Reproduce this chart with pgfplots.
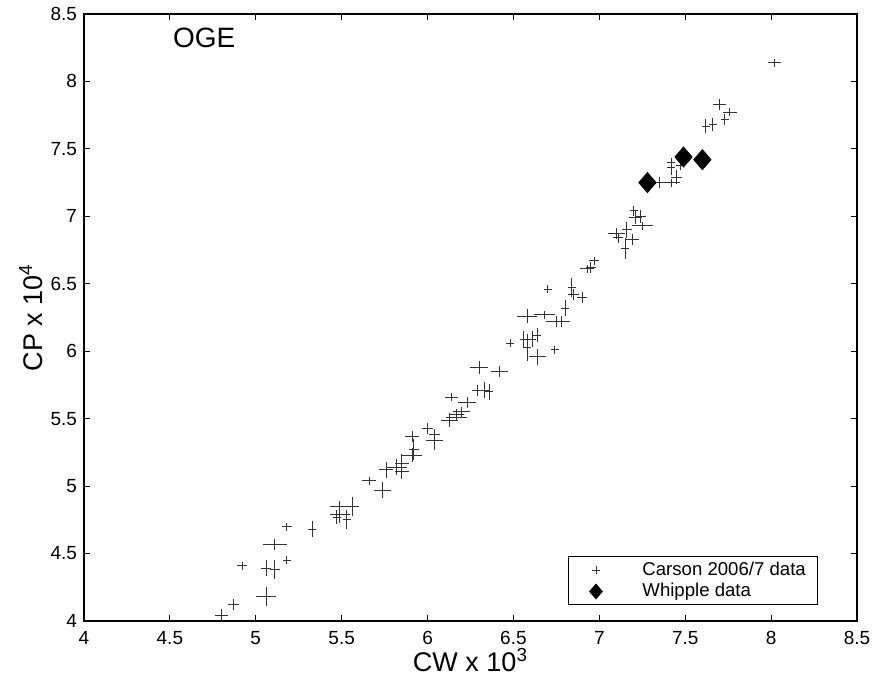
\documentclass[border=0pt]{standalone}
\usepackage{fontspec}
\setmainfont{Liberation Sans}
\usepackage{pgfplots}
\usepackage{pgfplotstable}
\pgfplotsset{compat=1.18}

% Carson 2006/7 measurements: CW (x10^3), CP (x10^4) and their uncertainties
\pgfplotstableread{
x    y    ex   ey
4.80 4.04 0.04 0.05
4.87 4.12 0.03 0.04
4.92 4.41 0.03 0.03
5.06 4.18 0.06 0.07
5.06 4.39 0.03 0.06
5.11 4.38 0.03 0.07
5.11 4.57 0.07 0.04
5.18 4.45 0.02 0.03
5.18 4.70 0.03 0.02
5.33 4.68 0.02 0.06
5.47 4.77 0.02 0.05
5.49 4.79 0.06 0.06
5.53 4.75 0.02 0.07
5.49 4.85 0.06 0.04
5.56 4.85 0.04 0.07
5.66 5.04 0.04 0.03
5.74 4.97 0.05 0.06
5.76 5.12 0.04 0.06
5.82 5.14 0.06 0.06
5.85 5.11 0.04 0.06
5.85 5.17 0.04 0.07
5.91 5.23 0.06 0.05
5.92 5.27 0.03 0.08
5.91 5.37 0.04 0.04
6.00 5.43 0.03 0.04
6.04 5.34 0.05 0.07
6.04 5.38 0.03 0.04
6.13 5.49 0.05 0.05
6.17 5.51 0.06 0.03
6.20 5.55 0.05 0.04
6.14 5.66 0.04 0.03
6.23 5.62 0.05 0.04
6.17 5.53 0.04 0.04
6.29 5.71 0.03 0.04
6.33 5.71 0.03 0.06
6.36 5.70 0.02 0.06
6.30 5.88 0.05 0.05
6.42 5.85 0.05 0.04
6.48 6.06 0.02 0.02
6.58 6.26 0.06 0.05
6.58 6.03 0.02 0.10
6.56 6.09 0.02 0.06
6.61 6.09 0.02 0.06
6.64 5.96 0.05 0.06
6.64 6.12 0.02 0.05
6.68 6.27 0.06 0.03
6.75 6.22 0.06 0.04
6.78 6.22 0.05 0.04
6.74 6.01 0.02 0.02
6.80 6.32 0.02 0.06
6.70 6.46 0.02 0.02
6.84 6.47 0.02 0.07
6.85 6.42 0.03 0.04
6.90 6.40 0.03 0.04
6.93 6.61 0.04 0.03
6.97 6.67 0.03 0.03
6.95 6.62 0.03 0.04
7.10 6.87 0.05 0.04
7.11 6.84 0.03 0.04
7.15 6.76 0.02 0.08
7.19 6.83 0.04 0.04
7.16 6.90 0.03 0.06
7.21 6.99 0.04 0.05
7.24 7.00 0.03 0.05
7.25 6.93 0.06 0.03
7.20 7.04 0.02 0.04
7.35 7.25 0.03 0.04
7.42 7.25 0.05 0.03
7.42 7.36 0.02 0.05
7.45 7.29 0.03 0.05
7.42 7.40 0.02 0.03
7.47 7.38 0.02 0.04
7.48 7.47 0.02 0.03
7.62 7.67 0.02 0.05
7.66 7.68 0.02 0.05
7.70 7.83 0.04 0.04
7.76 7.77 0.04 0.02
7.73 7.72 0.02 0.04
8.02 8.14 0.04 0.02
}\carson

% Whipple measurements
\pgfplotstableread{
x    y
7.28 7.25
7.49 7.44
7.60 7.42
}\whipple

\begin{document}
\begin{tikzpicture}
\begin{axis}[
  scale only axis,
  width=386.5pt, height=303.5pt,
  xmin=4, xmax=8.5, ymin=4, ymax=8.5,
  xtick={4,4.5,...,8.5}, ytick={4,4.5,...,8.5},
  tick align=inside,
  major tick length=3pt,
  axis line style={line width=0.7pt},
  every tick/.style={black, line width=0.5pt},
  /pgf/number format/assume math mode=true,
  ticklabel style={font=\fontsize{9.5}{11}\selectfont},
  xticklabel style={yshift=-1.5pt},
  xlabel={CW x 10\textsuperscript{3}},
  ylabel={CP x 10\textsuperscript{4}},
  label style={font=\fontsize{13.5}{15}\selectfont},
  xlabel style={yshift=5pt},
  ylabel style={yshift=-3pt},
  legend style={at={(rel axis cs:0.95,0.026)}, anchor=south east,
    font=\fontsize{9.3}{11}\selectfont, draw=black, line width=0.5pt,
    inner xsep=4pt, inner ysep=0.5pt, row sep=-1.5pt},
  legend cell align=left,
  % wide legend image: mark placed well left of its text
  legend image code/.code={%
    \path (-9.5pt,0pt) (21pt,0pt);
    \draw[#1] plot coordinates {(0pt,0pt)};},
]
\addplot[only marks, mark=+, mark size=2pt, black!80, line width=0.45pt,
  error bars/.cd, x dir=both, x explicit, y dir=both, y explicit,
  error mark=none,
  error bar style={black!80, line width=0.45pt}]
  table[x=x, y=y, x error=ex, y error=ey]{\carson};
\addlegendentry{Carson 2006/7 data}
\addplot[only marks, mark=diamond*, mark size=5pt, mark options={xscale=1.15}, black,
  legend image post style={mark size=3.6pt}]
  table[x=x, y=y]{\whipple};
\addlegendentry{Whipple data}
\node[anchor=center, font=\fontsize{14}{16}\selectfont] at (axis cs:4.7,8.32) {OGE};
\end{axis}
\pgfresetboundingbox
\path (-42pt,-35pt) rectangle (395.5pt,310.5pt);
\end{tikzpicture}
\end{document}
